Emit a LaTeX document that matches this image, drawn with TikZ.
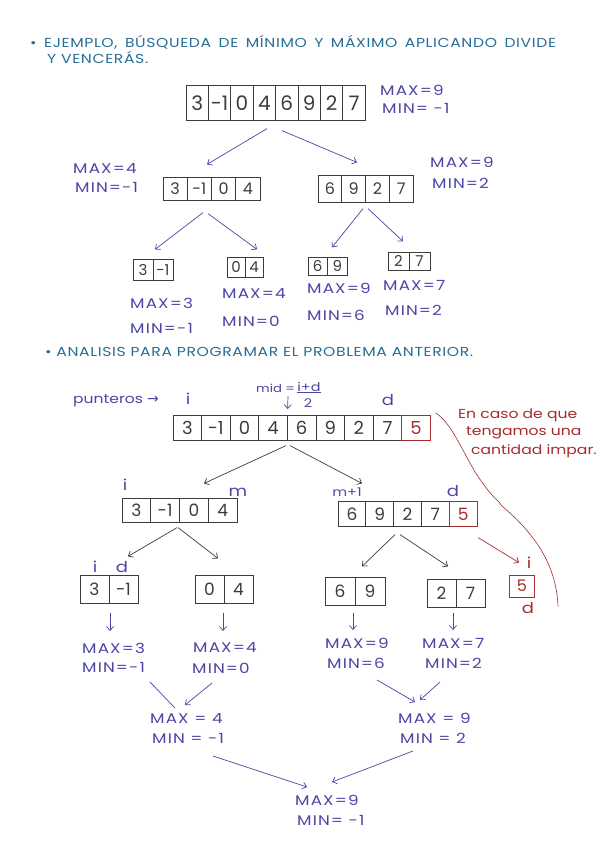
\documentclass[tikz,border=0pt]{standalone}
\usepackage{fontspec}
\setmainfont{Poppins}
\newfontfamily\hand[FakeStretch=1.2,LetterSpace=8]{Poppins}
\newfontfamily\headf[FakeStretch=1.2,LetterSpace=5]{Poppins}
\newfontfamily\notef[FakeStretch=1.2]{Poppins}
\newfontfamily\symf{DejaVu Sans}
\newcommand\widesp{\spaceskip=7.5pt\relax}
\usetikzlibrary{arrows.meta,calc,fit}
\definecolor{hdr}{RGB}{40,110,150}
\definecolor{ink}{RGB}{75,70,165}
\definecolor{pen}{RGB}{60,60,60}
\definecolor{rd}{RGB}{165,45,45}
\tikzset{
  cell/.style={draw=pen, line width=0.8pt, inner sep=0pt, text=pen},
  redcell/.style={cell, draw=rd, text=rd},
  lbl/.style={anchor=west, inner sep=0pt, text=ink, font=\hand\fontsize{14}{14}\selectfont},
  ptr/.style={inner sep=0pt, text=ink, font=\notef\fontsize{15}{15}\selectfont},
  head/.style={anchor=west, inner sep=0pt, text=hdr, font=\headf\fontsize{13}{13}\selectfont},
  note/.style={anchor=west, inner sep=0pt, text=rd, font=\notef\fontsize{13}{13}\selectfont},
  tip/.style={-{Straight Barb[length=4pt,width=7pt]}},
  arr/.style={draw=ink, line width=0.7pt, tip},
  garr/.style={draw=pen, line width=0.7pt, tip},
  rarr/.style={draw=rd, line width=0.7pt, tip},
  plain/.style={draw=ink, line width=0.7pt},
  grp/.style={inner sep=0pt},
}
\newcommand\myarr[7]{%
  \foreach \v [count=\k] in {#7}{%
    \node[cell, minimum width=#4pt, minimum height=#5pt,
      font=\fontsize{#6}{#6}\selectfont] (#1\k) at ({#2+(\k-0.5)*#4},#3) {\v};
  }%
}
\begin{document}
\begin{tikzpicture}[x=1pt,y=-1pt]
\useasboundingbox[fill=white] (0,0) rectangle (600,848);

% ---------- header 1
\node[head] (h1) at (30,42) {\widesp • EJEMPLO, BÚSQUEDA DE MÍNIMO Y MÁXIMO APLICANDO DIVIDE};
\node[head] (h1b) at (47,58) {Y VENCERÁS.};

% ---------- first example
\myarr{T}{186}{103}{22.4}{35}{20}{3,-1,0,4,6,9,2,7}
\node[grp, fit=(T1)(T8)] (T) {};
\node[lbl] (Tmax) at (380,90) {MAX=9};
\node[lbl] (Tmin) at (382,108) {MIN= -1};

\myarr{L}{163}{189}{24.25}{23}{16}{3,-1,0,4}
\node[grp, fit=(L1)(L4)] (L) {};
\node[lbl] (Lmax) at (73,168) {MAX=4};
\node[lbl] (Lmin) at (75,187) {MIN=-1};

\myarr{R}{318}{189}{23.75}{27}{16}{6,9,2,7}
\node[grp, fit=(R1)(R4)] (R) {};
\node[lbl] (Rmax) at (430,162) {MAX=9};
\node[lbl] (Rmin) at (432,183) {MIN=2};

\draw[arr] ($(T.south)+(-8.6,7.5)$) -- ($(L.north)+(-4.5,-12.5)$);
\draw[arr] ($(T.south)+(6.4,9.5)$) -- ($(R.north)+(-8.5,-12.5)$);

\myarr{LL}{133}{270}{20}{21}{15}{3,-1}
\node[grp, fit=(LL1)(LL2)] (LL) {};
\myarr{LR}{227}{267}{18}{20}{15}{0,4}
\node[grp, fit=(LR1)(LR2)] (LR) {};
\myarr{RL}{308}{266}{19.5}{18}{15}{6,9}
\node[grp, fit=(RL1)(RL2)] (RL) {};
\myarr{RR}{388}{261}{21}{18}{15}{2,7}
\node[grp, fit=(RR1)(RR2)] (RR) {};

\draw[arr] ($(L.south)+(-8.5,11.5)$) -- ($(LL.north)+(2,-9.5)$);
\draw[arr] ($(L.south)+(-3.5,12.5)$) -- ($(LR.north)+(12,-7)$);
\draw[arr] ($(R.south)+(-2.5,5.5)$) -- ($(RL.north)+(4.5,-9)$);
\draw[arr] ($(R.south)+(2.5,5.5)$) -- ($(RR.north)+(-6,-10)$);

\node[lbl] (LLmax) at (130,303) {MAX=3};
\node[lbl] (LLmin) at (130,328) {MIN=-1};
\node[lbl] (LRmax) at (222,293) {MAX=4};
\node[lbl] (LRmin) at (222,321) {MIN=0};
\node[lbl] (RLmax) at (307,288) {MAX=9};
\node[lbl] (RLmin) at (307,315) {MIN=6};
\node[lbl] (RRmax) at (383,285) {MAX=7};
\node[lbl] (RRmin) at (385,310) {MIN=2};

% ---------- header 2
\node[head] (h2) at (45,352) {• ANALISIS PARA PROGRAMAR EL PROBLEMA ANTERIOR.};

% ---------- pointers
\node[ptr, anchor=west, font=\notef\fontsize{13}{13}\selectfont] (pt) at (73,401) {punteros {\symf\fontsize{14}{14}\selectfont →}};
\node[ptr] (pi) at (188,399) {i};
\node[ptr] (pd) at (388,400) {d};
\node[ptr, anchor=west, font=\notef\fontsize{11}{11}\selectfont] (mid) at (256,388) {mid =};
\node[ptr, font=\notef\fontsize{12}{12}\selectfont] (ipd) at (309,387) {i+d};
\node[ptr, font=\notef\fontsize{12}{12}\selectfont] (two) at (308,403) {2};
\draw[ink, line width=0.6pt] (ipd.south west) -- (ipd.south east);

% ---------- main array
\myarr{M}{173}{428}{28.6}{25}{18}{3,-1,0,4,6,9,2,7}
\node[redcell, minimum width=28.6pt, minimum height=25pt, font=\fontsize{18}{18}\selectfont] (M9) at ({173+8.5*28.6},428) {5};
\node[grp, fit=(M1)(M9)] (M) {};
\coordinate (midtop) at (288,396);
\draw[arr] (midtop) -- ($(M5.north west)+(0.6,-6)$);

\node[note] (n1) at (458,415) {En caso de que};
\node[note] (n2) at (466,433) {tengamos una};
\node[note] (n3) at (471,451) {cantidad impar.};
\draw[rd, line width=0.6pt] ($(M9.north east)+(5,-2)$) .. controls (450,422) and (459,444) .. (475,472)
  .. controls (485,487) and (492,496) .. (498,501) -- (502,506)
  .. controls (530,530) and (556,560) .. (558,606);

% ---------- second level
\myarr{LA}{122}{510}{28.75}{24}{17}{3,-1,0,4}
\node[grp, fit=(LA1)(LA4)] (LA) {};
\node[ptr] (LAi) at (125,485) {i};
\node[ptr] (LAm) at (238,492) {m};

\myarr{RA}{338}{514}{27.8}{25}{17}{6,9,2,7}
\node[redcell, minimum width=27.8pt, minimum height=25pt, font=\fontsize{17}{17}\selectfont] (RA5) at ({338+4.5*27.8},514) {5};
\node[grp, fit=(RA1)(RA5)] (RA) {};
\node[ptr, font=\notef\fontsize{12}{12}\selectfont] (RAm) at (347,492) {m+1};
\node[ptr] (RAd) at (453,491) {d};

\draw[garr] ($(M.south)+(-15.7,4.5)$) -- ($(LA.north)+(24.5,-14)$);
\draw[garr] ($(M.south)+(-11.7,4.5)$) -- ($(RA.north)+(-45.5,-17.5)$);

% ---------- third level
\myarr{LB}{80}{589}{29}{28}{17}{3,-1}
\node[grp, fit=(LB1)(LB2)] (LB) {};
\node[ptr] (LBi) at (95,567) {i};
\node[ptr] (LBd) at (122,567) {d};
\myarr{LC}{195}{589}{29}{28}{17}{0,4}
\node[grp, fit=(LC1)(LC2)] (LC) {};
\myarr{RB}{325}{591}{30}{28}{17}{6,9}
\node[grp, fit=(RB1)(RB2)] (RB) {};
\myarr{RC}{427}{593}{29}{28}{17}{2,7}
\node[grp, fit=(RC1)(RC2)] (RC) {};
\node[redcell, minimum width=25pt, minimum height=22pt, font=\fontsize{16}{16}\selectfont] (P) at (522,586) {5};
\node[ptr, text=rd] (Pi) at (529,563) {i};
\node[ptr, text=rd] (Pd) at (528,608) {d};

\draw[garr] ($(LA.south)+(-2.5,5)$) -- ($(LB.north)+(19,-18)$);
\draw[garr] ($(LA.south)+(-1.5,5)$) -- ($(LC.north)+(-6,-16)$);
\draw[garr] ($(RA.south)+(-12.5,7.5)$) -- ($(RB.north)+(7,-10)$);
\draw[garr] ($(RA.south)+(-7.5,7.5)$) -- ($(RC.north)+(-8,-12)$);
\draw[rarr] ($(RA.south east)+(0.5,10.5)$) -- ($(P.north)+(-3,-12)$);

% ---------- results
\node[lbl] (LBmax) at (82,648) {MAX=3};
\node[lbl] (LBmin) at (82,667) {MIN=-1};
\node[lbl] (LCmax) at (193,647) {MAX=4};
\node[lbl] (LCmin) at (192,668) {MIN=0};
\node[lbl] (RBmax) at (325,643) {MAX=9};
\node[lbl] (RBmin) at (327,663) {MIN=6};
\node[lbl] (RCmax) at (422,643) {MAX=7};
\node[lbl] (RCmin) at (425,663) {MIN=2};

\draw[arr] ($(LB.south)+(1,9)$) -- ($(LBmax.west)+(28,-17)$);
\draw[arr] ($(LC.south)+(-1,9)$) -- ($(LCmax.west)+(30,-16)$);
\draw[arr] ($(RB.south)+(-2,7)$) -- ($(RBmax.west)+(28,-13)$);
\draw[arr] ($(RC.south)+(-3,5)$) -- ($(RCmax.west)+(31,-13)$);

\node[lbl] (Smax) at (150,718) {MAX = 4};
\node[lbl] (Smin) at (152,738) {MIN = -1};
\node[lbl] (Tmax2) at (398,718) {MAX = 9};
\node[lbl] (Tmin2) at (400,738) {MIN = 2};

\draw[plain] ($(LBmin.west)+(68,15)$) -- ($(Smax.west)+(25,-10)$);
\draw[arr] ($(LCmin.west)+(20,15)$) -- ($(Smax.west)+(35,-13)$);
\draw[arr] ($(RBmin.west)+(50,17)$) -- ($(Tmax2.west)+(17,-16)$);
\draw[arr] ($(RCmin.west)+(15,19)$) -- ($(Tmax2.west)+(22,-18)$);

\node[lbl] (Fmax) at (295,800) {MAX=9};
\node[lbl] (Fmin) at (297,820) {MIN= -1};

\draw[arr] ($(Smin.west)+(61,18)$) -- ($(Fmax.west)+(12,-13)$);
\draw[arr] ($(Tmin2.west)+(13,13)$) -- ($(Fmax.west)+(37,-18)$);
\end{tikzpicture}
\end{document}
